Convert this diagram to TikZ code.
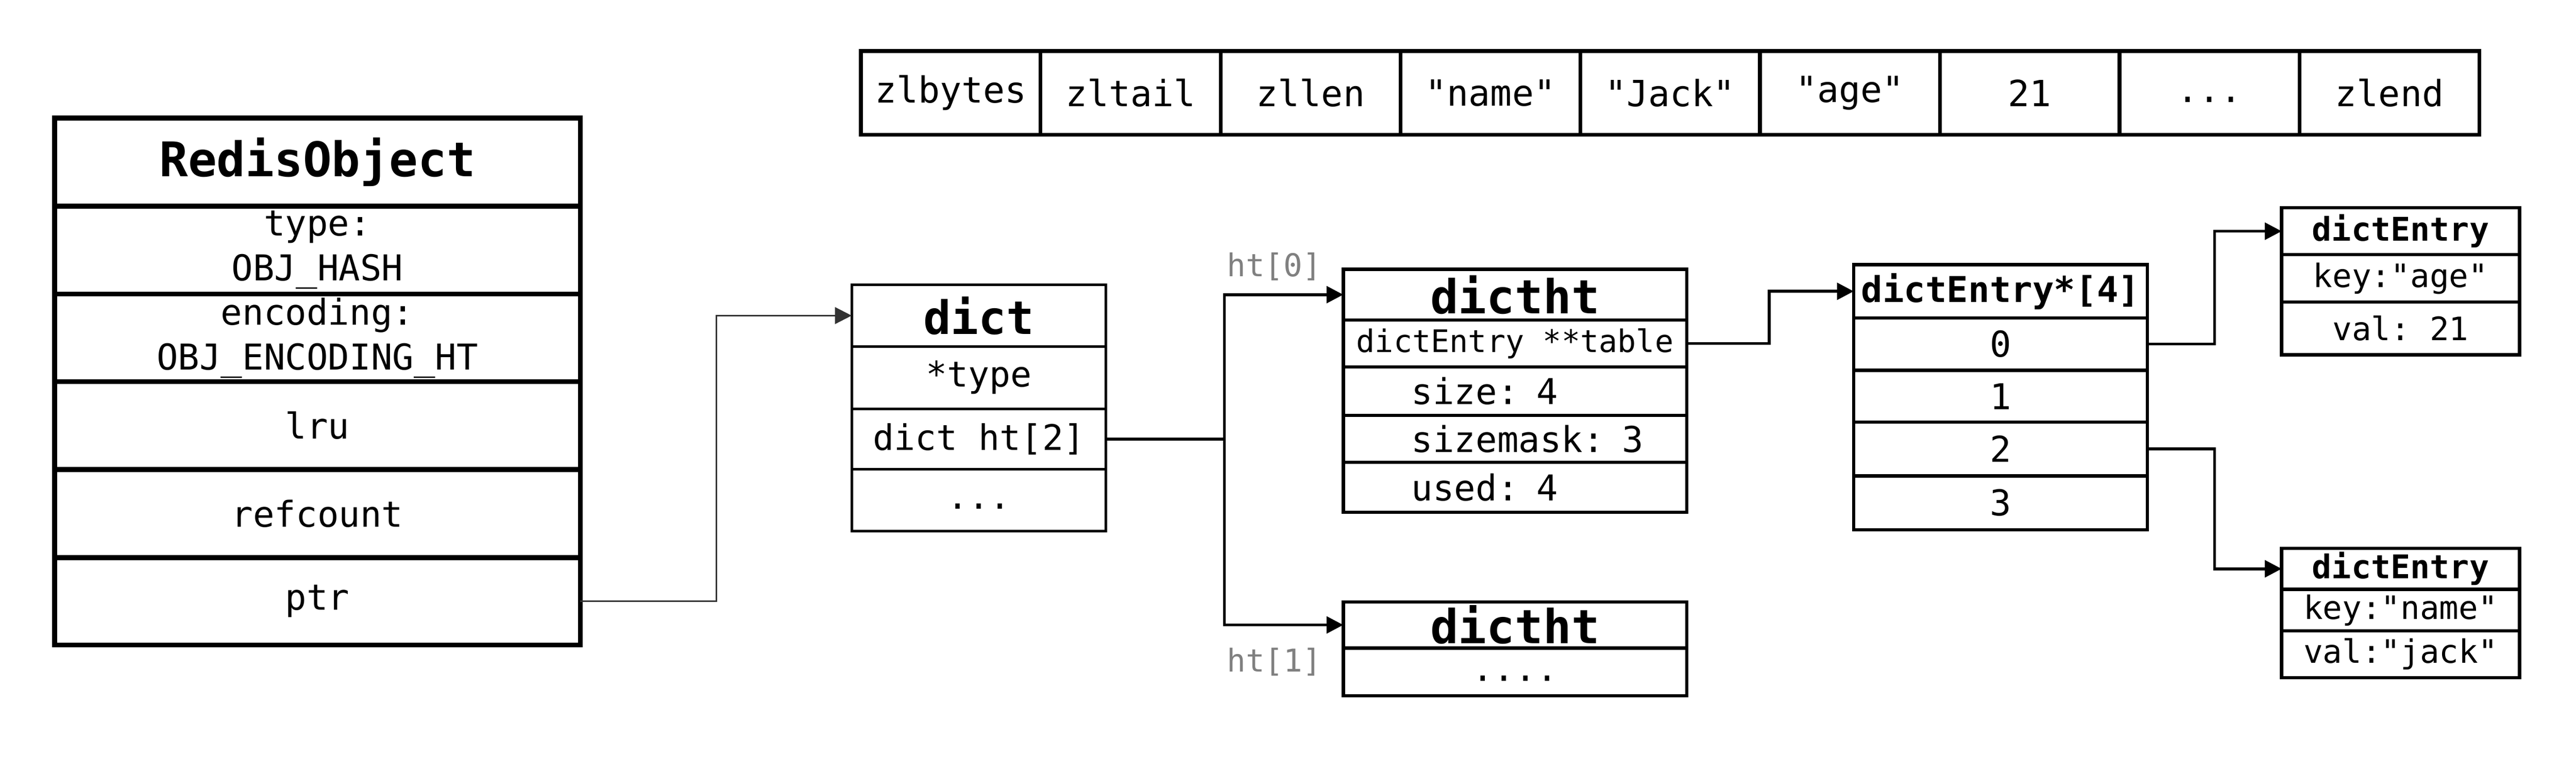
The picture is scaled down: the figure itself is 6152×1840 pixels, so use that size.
\documentclass[tikz,border=0pt]{standalone}
\usepackage{fontspec}
\setmonofont{DejaVu Sans Mono}
\usetikzlibrary{arrows.meta}
\newcommand\setfs[1]{\fontsize{#1}{1.26\dimexpr#1\relax}\selectfont}
% \cellbox{name}{x1}{y1}{x2}{y2}{text}{style}
\newcommand\cellbox[7]{\node[#7, minimum width={(#4-#2)*0.1pt}, minimum height={(#5-#3)*0.1pt}] (#1) at ({(#2+#4)/2},{(#3+#5)/2}) {#6};}
\newcommand\dotsph[1]{\vphantom{Ag}#1}
\begin{document}
\begin{tikzpicture}[x=0.1pt,y=-0.1pt,
  cell/.style={draw=black, rectangle, inner sep=0pt, outer sep=0pt, align=center},
  robox/.style={cell, line width=1.2pt, font=\ttfamily\setfs{8.5pt}},
  rotitle/.style={robox, font=\ttfamily\bfseries\setfs{11.4pt}},
  zbox/.style={cell, line width=0.9pt, font=\ttfamily\setfs{8.6pt}},
  dbox/.style={cell, line width=0.6pt, font=\ttfamily\setfs{8.4pt}},
  dtitle/.style={dbox, font=\ttfamily\bfseries\setfs{11pt}},
  tbox/.style={cell, line width=0.8pt, font=\ttfamily\setfs{8.5pt}},
  ttitle/.style={tbox, font=\ttfamily\bfseries\setfs{11.2pt}},
  lrow/.style={tbox, text width=82pt, align=left},
  ebox/.style={cell, line width=0.8pt, font=\ttfamily\setfs{8.5pt}},
  etitle/.style={ebox, font=\ttfamily\bfseries\setfs{8.5pt}},
  kbox/.style={cell, line width=0.8pt, font=\ttfamily\setfs{7.7pt}},
  ktitle/.style={kbox, font=\ttfamily\bfseries\setfs{7.8pt}},
  glabel/.style={inner sep=0pt, outer sep=0pt, text=black!50, font=\ttfamily\setfs{7.5pt}},
  conn/.style={draw=black, line width=0.7pt},
  thinconn/.style={draw=black!80, line width=0.35pt},
  arr/.style={-{Triangle[length=4pt,width=4pt]}}
]
\path[fill=white, use as bounding box] (0,0) rectangle (6152,1840);

% RedisObject
\cellbox{rtitle}{130}{282}{1386}{492}{RedisObject}{rotitle}
\cellbox{rtype}{130}{492}{1386}{702}{type:\\OBJ\_HASH}{robox}
\cellbox{renc}{130}{702}{1386}{911}{encoding:\\OBJ\_ENCODING\_HT}{robox}
\cellbox{rlru}{130}{911}{1386}{1121}{lru}{robox}
\cellbox{rref}{130}{1121}{1386}{1331}{refcount}{robox}
\cellbox{ptr}{130}{1331}{1386}{1540}{ptr}{robox}

% ziplist
\cellbox{z1}{2056}{122}{2485}{322}{zlbytes}{zbox}
\cellbox{z2}{2485}{122}{2915}{322}{zltail}{zbox}
\cellbox{z3}{2915}{122}{3345}{322}{zllen}{zbox}
\cellbox{z4}{3345}{122}{3774}{322}{"name"}{zbox}
\cellbox{z5}{3774}{122}{4203}{322}{"Jack"}{zbox}
\cellbox{z6}{4203}{122}{4633}{322}{"age"}{zbox}
\cellbox{z7}{4633}{122}{5062}{322}{21}{zbox}
\cellbox{z8}{5062}{122}{5492}{322}{\dotsph{...}}{zbox}
\cellbox{z9}{5492}{122}{5921}{322}{zlend}{zbox}

% dict
\cellbox{dh}{2034}{680}{2641}{827}{dict}{dtitle}
\cellbox{dtype}{2034}{827}{2641}{976}{*type}{dbox}
\cellbox{ht2}{2034}{976}{2641}{1120}{dict ht[2]}{dbox}
\cellbox{ddots}{2034}{1120}{2641}{1268}{\dotsph{...}}{dbox}

% dictht 0
\cellbox{t0h}{3208}{643}{4028}{764}{dictht}{ttitle}
\cellbox{tbl}{3208}{764}{4028}{876}{\setfs{7.4pt}dictEntry **table}{tbox}
\cellbox{tsz}{3208}{876}{4028}{992}{\hspace*{16.3pt}size: 4}{lrow}
\cellbox{tsm}{3208}{992}{4028}{1104}{\hspace*{16.3pt}sizemask: 3}{lrow}
\cellbox{tus}{3208}{1104}{4028}{1223}{\hspace*{16.3pt}used: 4}{lrow}

% dictht 1
\cellbox{t1h}{3208}{1437}{4028}{1547}{dictht}{ttitle}
\cellbox{t1d}{3208}{1547}{4028}{1661}{\dotsph{....}}{tbox}

% labels
\node[glabel, anchor=west] (l0) at (2930,636) {ht[0]};
\node[glabel, anchor=west] (l1) at (2930,1580) {ht[1]};

% dictEntry*[4]
\cellbox{eh}{4427}{632}{5128}{759}{dictEntry*[4]}{etitle}
\cellbox{r0}{4427}{759}{5128}{884}{0}{ebox}
\cellbox{r1}{4427}{884}{5128}{1008}{1}{ebox}
\cellbox{r2}{4427}{1008}{5128}{1136}{2}{ebox}
\cellbox{r3}{4427}{1136}{5128}{1265}{3}{ebox}

% dictEntry A
\cellbox{ea}{5449}{496}{6017}{608}{dictEntry}{ktitle}
\cellbox{eak}{5449}{608}{6017}{721}{key:"age"}{kbox}
\cellbox{eav}{5449}{721}{6017}{847}{val: 21}{kbox}

% dictEntry B
\cellbox{eb}{5449}{1309}{6017}{1407}{dictEntry}{ktitle}
\cellbox{ebk}{5449}{1407}{6017}{1506}{key:"name"}{kbox}
\cellbox{ebv}{5449}{1506}{6017}{1618}{val:"jack"}{kbox}

% connectors
\draw[thinconn, arr] (ptr.east) -- ++(325,0) |- (dh.west);
\coordinate (forkx) at (2924,0);
\draw[conn] (ht2.east) -- (ht2.east -| forkx) coordinate (fork);
\draw[conn, arr] (fork) |- (t0h.west);
\draw[conn, arr] (fork) |- (t1h.west);
\draw[conn, arr] (tbl.east) -- ++(197,0) |- (eh.west);
\draw[conn, arr] (r0.east) -- ++(161,0) |- (ea.west);
\draw[conn, arr] (r2.east) -- ++(161,0) |- (eb.west);
\end{tikzpicture}
\end{document}
